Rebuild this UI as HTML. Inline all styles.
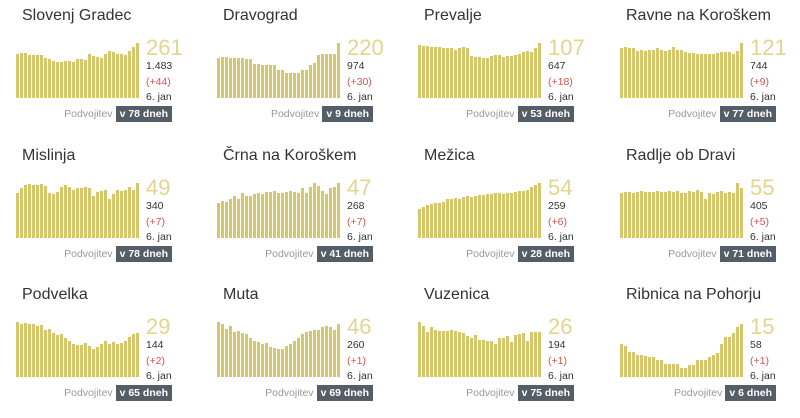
<!DOCTYPE html><html><head><meta charset="utf-8"><style>
body{margin:0;width:800px;height:418px;background:#fff;font-family:"Liberation Sans",sans-serif;position:relative;overflow:hidden}
.p{position:absolute;width:200px;height:138px}
.t{position:absolute;left:22px;top:7px;font-size:16px;color:#333}
.c{position:absolute;left:16px;top:43px;width:124px;height:55px;display:flex;align-items:flex-end}
.c div{width:3px;margin-right:1px;background:#d6c76c;flex:none}
.big{position:absolute;left:146px;top:35px;font-size:22px;color:#e3d590}
.n{position:absolute;left:146px;font-size:10.5px;color:#333}
.r{color:#d9534f}
.f{position:absolute;right:28px;top:106px;font-size:10.5px;color:#999;display:flex;align-items:center;gap:3px}
.b{background:#555d66;color:#fff;font-weight:bold;padding:2px 4px}
</style></head><body><div id="g"></div>
<script>
const D=[
["Slovenj Gradec",261,"1.483",44,78,[.8,.82,.82,.78,.78,.78,.78,.72,.7,.68,.66,.66,.67,.68,.66,.7,.69,.8,.76,.74,.72,.8,.86,.84,.8,.8,.78,.86,.92,1]],
["Dravograd",220,"974",30,9,[.72,.74,.74,.72,.72,.72,.7,.7,.62,.6,.6,.6,.6,.5,.46,.46,.46,.46,.5,.6,.64,.78,.8,.8,.8,1]],
["Prevalje",107,"647",18,53,[.96,.95,.94,.92,.92,.92,.9,.9,.88,.9,.92,.9,.76,.74,.74,.72,.72,.76,.78,.78,.74,.76,.78,.8,.84,.86,.84,.9,1]],
["Ravne na Koroškem",121,"744",9,77,[.9,.92,.9,.9,.86,.88,.86,.88,.9,.88,.86,.88,.92,.88,.88,.84,.82,.82,.8,.8,.8,.8,.82,.84,.84,.84,.8,.86,1]],
["Mislinja",49,"340",7,78,[.82,.9,.96,.98,.96,.96,.98,.94,.82,.8,.84,.92,.96,.92,.88,.9,.92,.9,.76,.84,.86,.88,.7,.8,.88,.86,.88,.92,.88,1]],
["Črna na Koroškem",47,"268",7,41,[.64,.68,.66,.7,.76,.7,.82,.76,.76,.8,.82,.8,.84,.84,.86,.82,.84,.86,.84,.82,.9,.82,.92,1,.94,.86,.8,.9,.92,1]],
["Mežica",54,"259",6,28,[.52,.56,.6,.62,.64,.64,.66,.7,.72,.7,.74,.76,.74,.76,.78,.78,.8,.8,.82,.82,.8,.82,.84,.86,.86,.88,.92,.96,1]],
["Radlje ob Dravi",55,"405",5,71,[.82,.84,.84,.82,.84,.86,.84,.84,.84,.86,.84,.84,.86,.84,.86,.82,.86,.84,.88,.84,.7,.82,.8,.84,.86,.82,.84,.82,1,.9]],
["Podvelka",29,"144",2,65,[1,.96,.98,.96,.96,.92,.94,.86,.88,.8,.76,.78,.7,.66,.6,.58,.62,.56,.5,.54,.6,.66,.6,.64,.6,.62,.66,.72,.78,.8]],
["Muta",46,"260",1,69,[1,.96,.88,.92,.82,.84,.8,.78,.7,.66,.64,.6,.62,.54,.52,.5,.56,.6,.66,.7,.78,.82,.84,.86,.86,.9,.92,.9,.86,.96]],
["Vuzenica",26,"194",1,75,[1,.92,.82,.9,.86,.84,.84,.84,.86,.84,.82,.8,.74,.7,.76,.68,.66,.66,.6,.7,.7,.74,.64,.76,.78,.8,.66,.82,.82,.82]],
["Ribnica na Pohorju",15,"58",1,6,[.6,.56,.46,.46,.4,.4,.38,.36,.36,.3,.3,.24,.24,.24,.24,.16,.22,.22,.3,.3,.3,.36,.4,.44,.6,.72,.72,.8,.9,.96]]];
function rs(a){const n=a.length,o=[];for(let i=0;i<31;i++){o.push(a[Math.min(n-1,Math.round(i*(n-1)/30))]);}return o;}
const xs=[0,201,402,604],ys=[0,140,279];let h="";
D.forEach((d,i)=>{const x=xs[i%4],y=ys[Math.floor(i/4)];
h+=`<div class="p" style="left:${x}px;top:${y}px"><div class="t">${d[0]}</div><div class="c">${rs(d[5]).map(v=>`<div style="height:${Math.round(v*55)}px"></div>`).join("")}</div><div class="big">${d[1]}</div><div class="n" style="top:60px">${d[2]}</div><div class="n r" style="top:76px">(+${d[3]})</div><div class="n" style="top:91px">6. jan</div><div class="f">Podvojitev <span class="b">v ${d[4]} dneh</span></div></div>`});
document.getElementById("g").innerHTML=h;
</script></body></html>
